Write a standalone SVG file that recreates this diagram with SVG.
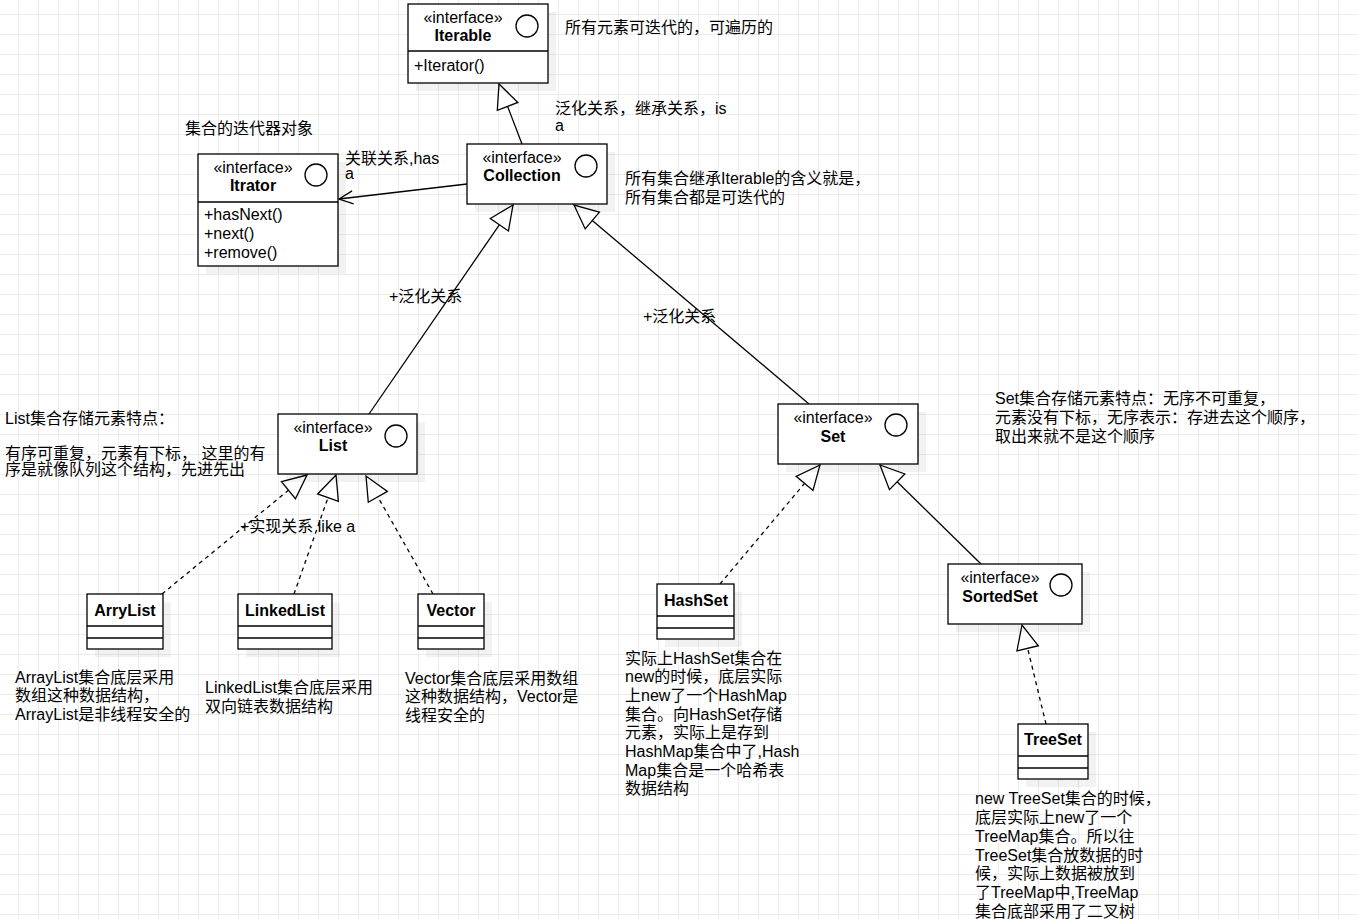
<svg xmlns="http://www.w3.org/2000/svg" width="1358" height="919" viewBox="0 0 1358 919">
<style>
.t{font-family:"Liberation Sans","Noto Sans CJK SC",sans-serif;font-size:16px;fill:#000}
.b{font-weight:bold}
.m{text-anchor:middle}
.box{fill:#fff;stroke:#000;stroke-width:1.3}
.sh{fill:#000;fill-opacity:0.05}
.ln{fill:none;stroke:#000;stroke-width:1.3}
.dash{stroke-dasharray:4 4}
.c{fill:none;stroke:#000;stroke-width:1.3}
</style>
<defs>
<pattern id="grid" x="18" y="14" width="20" height="20" patternUnits="userSpaceOnUse">
<path d="M0.5,0 V20 M0,0.5 H20" fill="none" stroke="#ececec" stroke-width="1"/>
</pattern>
<marker id="tri" viewBox="-27 -13 29 26" refX="0" refY="0" markerWidth="29" markerHeight="26" markerUnits="userSpaceOnUse" orient="auto">
<path d="M0,0 L-24,-11 L-24,11 Z" fill="#fff" stroke="#000" stroke-width="1.3" stroke-dasharray="none"/>
</marker>
<marker id="open" viewBox="-17 -9 19 18" refX="0" refY="0" markerWidth="19" markerHeight="18" markerUnits="userSpaceOnUse" orient="auto">
<path d="M-14,-6.5 L0,0 L-14,6.5" fill="none" stroke="#000" stroke-width="1.3"/>
</marker>
</defs>
<rect width="1358" height="919" fill="#fff"/>
<rect width="1358" height="919" fill="url(#grid)"/>

<g id="connectors">
<path class="ln" d="M522,144 L499,84" marker-end="url(#tri)"/>
<path class="ln" d="M467,184 L339,199" marker-end="url(#open)"/>
<path class="ln" d="M369,414 L513,205" marker-end="url(#tri)"/>
<path class="ln" d="M809,404 L574,205" marker-end="url(#tri)"/>
<path class="ln dash" d="M162,594 L307,475" marker-end="url(#tri)"/>
<path class="ln dash" d="M294,594 L336,475" marker-end="url(#tri)"/>
<path class="ln dash" d="M433,594 L366,476" marker-end="url(#tri)"/>
<path class="ln dash" d="M720,584 L820,465" marker-end="url(#tri)"/>
<path class="ln" d="M981,564 L880,465" marker-end="url(#tri)"/>
<path class="ln dash" d="M1046,724 L1022,625" marker-end="url(#tri)"/>
<text class="t" x="555" y="114">泛化关系，继承关系，is</text>
<text class="t" x="555" y="131">a</text>
<text class="t" x="345" y="164">关联关系,has</text>
<text class="t" x="345" y="179">a</text>
<text class="t" x="389" y="302">+泛化关系</text>
<text class="t" x="643" y="322">+泛化关系</text>
<text class="t" x="240" y="532">+实现关系 like a</text>
</g>

<g id="iterable">
<rect class="sh" x="416" y="12" width="140" height="79"/>
<rect class="box" x="408" y="4" width="140" height="79"/>
<line class="ln" x1="408" y1="51" x2="548" y2="51"/>
<text class="t m" x="463" y="23">«interface»</text>
<text class="t m b" x="463" y="41">Iterable</text>
<circle class="c" cx="527" cy="26" r="11"/>
<text class="t" x="414" y="71">+Iterator()</text>
</g>

<g id="iterator">
<rect class="sh" x="206" y="162" width="140" height="112"/>
<rect class="box" x="198" y="154" width="140" height="112"/>
<line class="ln" x1="198" y1="202" x2="338" y2="202"/>
<text class="t m" x="253" y="173">«interface»</text>
<text class="t m b" x="253" y="191">Itrator</text>
<circle class="c" cx="316" cy="175" r="11"/>
<text class="t" x="204" y="220">+hasNext()</text>
<text class="t" x="204" y="239">+next()</text>
<text class="t" x="204" y="258">+remove()</text>
</g>

<g id="collection">
<rect class="sh" x="475" y="152" width="140" height="60"/>
<rect class="box" x="467" y="144" width="140" height="60"/>
<text class="t m" x="522" y="163">«interface»</text>
<text class="t m b" x="522" y="181">Collection</text>
<circle class="c" cx="586" cy="166" r="11"/>
</g>

<g id="list">
<rect class="sh" x="286" y="422" width="139" height="60"/>
<rect class="box" x="278" y="414" width="139" height="60"/>
<text class="t m" x="333" y="433">«interface»</text>
<text class="t m b" x="333" y="451">List</text>
<circle class="c" cx="396" cy="436" r="11"/>
</g>

<g id="set">
<rect class="sh" x="786" y="412" width="140" height="60"/>
<rect class="box" x="778" y="404" width="140" height="60"/>
<text class="t m" x="833" y="423">«interface»</text>
<text class="t m b" x="833" y="442">Set</text>
<circle class="c" cx="896" cy="425" r="11"/>
</g>

<g id="sortedset">
<rect class="sh" x="956" y="572" width="134" height="60"/>
<rect class="box" x="948" y="564" width="134" height="60"/>
<text class="t m" x="1000" y="583">«interface»</text>
<text class="t m b" x="1000" y="602">SortedSet</text>
<circle class="c" cx="1061" cy="585" r="11"/>
</g>

<g id="arrylist">
<rect class="sh" x="95" y="602" width="76" height="55"/>
<rect class="box" x="87" y="594" width="76" height="55"/>
<line class="ln" x1="87" y1="626" x2="163" y2="626"/>
<line class="ln" x1="87" y1="638" x2="163" y2="638"/>
<text class="t m b" x="125" y="616">ArryList</text>
</g>

<g id="linkedlist">
<rect class="sh" x="246" y="602" width="94" height="55"/>
<rect class="box" x="238" y="594" width="94" height="55"/>
<line class="ln" x1="238" y1="626" x2="332" y2="626"/>
<line class="ln" x1="238" y1="638" x2="332" y2="638"/>
<text class="t m b" x="285" y="616">LinkedList</text>
</g>

<g id="vector">
<rect class="sh" x="426" y="602" width="66" height="55"/>
<rect class="box" x="418" y="594" width="66" height="55"/>
<line class="ln" x1="418" y1="626" x2="484" y2="626"/>
<line class="ln" x1="418" y1="638" x2="484" y2="638"/>
<text class="t m b" x="451" y="616">Vector</text>
</g>

<g id="hashset">
<rect class="sh" x="665" y="592" width="77" height="55"/>
<rect class="box" x="657" y="584" width="77" height="55"/>
<line class="ln" x1="657" y1="616" x2="734" y2="616"/>
<line class="ln" x1="657" y1="628" x2="734" y2="628"/>
<text class="t m b" x="696" y="606">HashSet</text>
</g>

<g id="treeset">
<rect class="sh" x="1026" y="732" width="70" height="55"/>
<rect class="box" x="1018" y="724" width="70" height="55"/>
<line class="ln" x1="1018" y1="756" x2="1088" y2="756"/>
<line class="ln" x1="1018" y1="768" x2="1088" y2="768"/>
<text class="t m b" x="1053" y="745">TreeSet</text>
</g>

<g id="note-iterable">
<text class="t" x="565" y="33">所有元素可迭代的，可遍历的</text>
</g>
<g id="note-iterator">
<text class="t" x="185" y="134">集合的迭代器对象</text>
</g>
<g id="note-collection">
<text class="t" x="625" y="184">所有集合继承Iterable的含义就是，</text>
<text class="t" x="625" y="203">所有集合都是可迭代的</text>
</g>
<g id="note-list">
<text class="t" x="5" y="424">List集合存储元素特点：</text>
<text class="t" x="5" y="459">有序可重复，元素有下标， 这里的有</text>
<text class="t" x="5" y="475">序是就像队列这个结构，先进先出</text>
</g>
<g id="note-set">
<text class="t" x="995" y="404">Set集合存储元素特点：无序不可重复，</text>
<text class="t" x="995" y="423">元素没有下标，无序表示：存进去这个顺序，</text>
<text class="t" x="995" y="442">取出来就不是这个顺序</text>
</g>
<g id="note-arraylist">
<text class="t" x="15" y="683">ArrayList集合底层采用</text>
<text class="t" x="15" y="701">数组这种数据结构，</text>
<text class="t" x="15" y="720">ArrayList是非线程安全的</text>
</g>
<g id="note-linkedlist">
<text class="t" x="205" y="693">LinkedList集合底层采用</text>
<text class="t" x="205" y="712">双向链表数据结构</text>
</g>
<g id="note-vector">
<text class="t" x="405" y="684">Vector集合底层采用数组</text>
<text class="t" x="405" y="702">这种数据结构，Vector是</text>
<text class="t" x="405" y="721">线程安全的</text>
</g>
<g id="note-hashset">
<text class="t" x="625" y="664">实际上HashSet集合在</text>
<text class="t" x="625" y="682">new的时候，底层实际</text>
<text class="t" x="625" y="701">上new了一个HashMap</text>
<text class="t" x="625" y="720">集合。向HashSet存储</text>
<text class="t" x="625" y="738">元素，实际上是存到</text>
<text class="t" x="625" y="757">HashMap集合中了,Hash</text>
<text class="t" x="625" y="776">Map集合是一个哈希表</text>
<text class="t" x="625" y="794">数据结构</text>
</g>
<g id="note-treeset">
<text class="t" x="975" y="804">new TreeSet集合的时候，</text>
<text class="t" x="975" y="823">底层实际上new了一个</text>
<text class="t" x="975" y="842">TreeMap集合。所以往</text>
<text class="t" x="975" y="861">TreeSet集合放数据的时</text>
<text class="t" x="975" y="879">候，实际上数据被放到</text>
<text class="t" x="975" y="898">了TreeMap中,TreeMap</text>
<text class="t" x="975" y="917">集合底部采用了二叉树</text>
</g>
</svg>
